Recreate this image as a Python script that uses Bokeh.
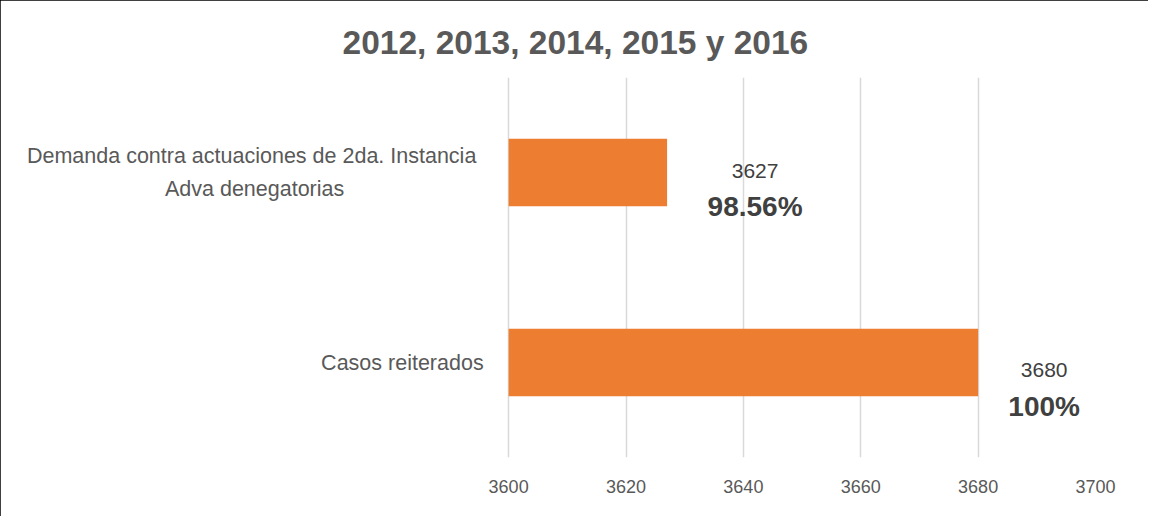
from bokeh.plotting import figure
from bokeh.models import FactorRange, Range1d, ColumnDataSource, FixedTicker
from bokeh.core.properties import value
from bokeh.embed import file_html
from bokeh.resources import INLINE

# ---- data ----
categories = ["Casos reiterados", "Demanda contra actuaciones de  2da. Instancia\nAdva denegatorias"]
counts = [3680, 3627]
percents = ["100%", "98.56%"]
x_ticks = [3600, 3620, 3640, 3660, 3680, 3700]
title_text = "2012, 2013, 2014, 2015 y 2016"

# ---- styling / layout (not data) ----
x_start = 3514.1          # frame extends left so the category labels sit inside it
label_dx = [66, 88]
count_dy = [7.5, -2]
pct_dy = [43.5, 34]
cat_dx = [-25, -254]
cat_align = ["right", "center"]

BAR = "#ED7D31"
GREY = "#595959"
DARK = "#404040"
FONT = "Liberation Sans"

p = figure(width=1148, height=516, output_backend="svg", toolbar_location=None,
           y_range=FactorRange(factors=categories, range_padding=0),
           x_range=Range1d(x_start, x_ticks[-1]),
           min_border_left=4, min_border_right=53, min_border_top=77, min_border_bottom=59)
p.styles = {"outline": "3px solid black", "outline-offset": "-3px"}

p.title.text = title_text
p.title.align = "left"
p.title.offset = 338
p.title.standoff = 33
p.title.text_font = FONT
p.title.text_font_size = "33.5px"
p.title.text_font_style = "bold"
p.title.text_color = GREY

src = ColumnDataSource(dict(cat=categories, cnt=counts, pct=percents,
                            dx=label_dx, cdy=count_dy, pdy=pct_dy,
                            cdx=cat_dx, cal=cat_align,
                            cnt_s=[str(c) for c in counts]))

p.hbar(y="cat", left=x_ticks[0], right="cnt", height=0.355, source=src,
       fill_color=BAR, line_color=None)

p.text(x="cnt", y="cat", text="cnt_s", x_offset="dx", y_offset="cdy", source=src,
       text_align="center", text_baseline="alphabetic", text_font=value(FONT),
       text_font_size="21px", text_color=DARK)
p.text(x="cnt", y="cat", text="pct", x_offset="dx", y_offset="pdy", source=src,
       text_align="center", text_baseline="alphabetic", text_font=value(FONT),
       text_font_size="28px", text_font_style="bold", text_color=DARK)

# category labels
p.text(x=x_ticks[0], y="cat", text="cat", x_offset="cdx", source=src,
       text_align="cal", text_baseline="middle", text_font=value(FONT),
       text_font_size="21.5px", text_color=GREY, text_line_height=1.35)

p.xaxis.ticker = FixedTicker(ticks=x_ticks)
p.xaxis.axis_line_color = None
p.xaxis.major_tick_line_color = None
p.xaxis.minor_tick_line_color = None
p.xaxis.major_tick_in = 0
p.xaxis.major_tick_out = 0
p.xaxis.major_label_standoff = 22
p.xaxis.major_label_text_font = FONT
p.xaxis.major_label_text_font_size = "18px"
p.xaxis.major_label_text_color = GREY

p.yaxis.visible = False

p.xgrid.grid_line_color = "#D9D9D9"
p.xgrid.grid_line_width = 1.5
p.ygrid.grid_line_color = None
p.outline_line_color = None

open("out.html", "w").write(file_html(p, INLINE))
